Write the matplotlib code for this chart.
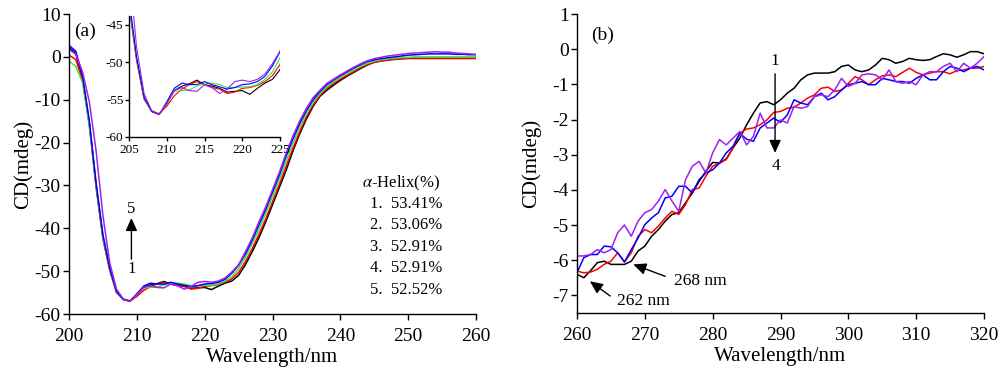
import matplotlib
matplotlib.use("Agg")
import matplotlib.pyplot as plt

plt.rcParams['font.family'] = ['Liberation Serif', 'DejaVu Serif']
plt.rcParams['mathtext.fontset'] = 'stix'
plt.rcParams['axes.unicode_minus'] = False

# ---------------- Panel (a) data ----------------
wl_a = list(range(200, 261))

cd_a_1 = [2.2, 0.8, -5.0, -15.5, -30.0, -42.0, -49.5, -54.8, -56.6, -57.0,
          -55.6, -53.8, -53.2, -52.9, -52.4, -53.0, -53.2, -53.5, -54.0, -53.9,
          -53.8, -54.3, -53.5, -52.8, -52.3, -51.0, -48.5, -45.5, -42.2, -38.5,
          -34.5, -30.5, -26.5, -22.0, -18.0, -14.5, -11.5, -9.2, -7.8, -6.6,
          -5.5, -4.5, -3.6, -2.7, -1.9, -1.2, -0.9, -0.7, -0.5, -0.4,
          -0.3, -0.3, -0.3, -0.3, -0.3, -0.3, -0.3, -0.3, -0.3, -0.3, -0.3]
cd_a_2 = [0.4, -0.6, -5.5, -16.0, -30.5, -42.5, -49.8, -55.0, -56.5, -56.9,
          -55.9, -54.5, -53.6, -53.0, -52.6, -53.0, -53.4, -53.6, -54.2, -54.0,
          -53.5, -53.4, -53.1, -52.6, -51.8, -50.3, -47.8, -44.8, -41.4, -37.8,
          -33.8, -29.8, -25.6, -21.4, -17.5, -14.0, -11.2, -9.0, -7.4, -6.2,
          -5.2, -4.3, -3.4, -2.5, -1.8, -1.3, -1.0, -0.8, -0.6, -0.5,
          -0.4, -0.4, -0.4, -0.4, -0.4, -0.4, -0.4, -0.4, -0.4, -0.4, -0.4]
cd_a_3 = [-1.0, -2.2, -6.0, -16.0, -30.0, -42.0, -49.5, -54.8, -56.6, -57.0,
          -55.5, -53.9, -53.8, -53.7, -53.2, -52.9, -52.8, -53.0, -53.4, -53.4,
          -53.3, -53.3, -53.0, -52.3, -51.3, -49.4, -46.8, -43.6, -40.2, -36.5,
          -32.6, -28.6, -24.4, -20.2, -16.5, -13.2, -10.6, -8.6, -7.0, -5.8,
          -4.8, -3.9, -3.0, -2.2, -1.5, -1.0, -0.7, -0.5, -0.3, -0.2,
          -0.1, 0.0, 0.0, 0.0, 0.0, 0.0, 0.0, 0.0, 0.0, 0.0, 0.0]
cd_a_4 = [2.7, 1.3, -4.5, -15.0, -29.5, -41.5, -49.3, -54.7, -56.6, -57.0,
          -55.3, -53.5, -52.8, -53.0, -53.0, -52.6, -53.0, -53.3, -53.6, -53.4,
          -53.0, -52.9, -52.6, -51.9, -50.5, -48.6, -46.0, -42.8, -39.2, -35.6,
          -31.6, -27.6, -23.2, -19.2, -15.6, -12.5, -10.0, -8.1, -6.5, -5.4,
          -4.4, -3.5, -2.6, -1.8, -1.1, -0.7, -0.4, -0.2, 0.0, 0.2,
          0.4, 0.5, 0.6, 0.7, 0.7, 0.7, 0.7, 0.6, 0.6, 0.5, 0.5]
cd_a_5 = [1.8, 0.6, -3.5, -10.5, -22.0, -37.0, -48.0, -54.2, -56.5, -57.0,
          -55.5, -53.8, -53.4, -53.8, -53.9, -53.0, -53.4, -54.2, -53.6, -52.6,
          -52.4, -52.6, -52.3, -51.6, -50.2, -48.5, -45.5, -42.3, -38.5, -35.0,
          -31.0, -27.0, -22.5, -18.5, -15.0, -12.0, -9.5, -7.8, -6.2, -5.2,
          -4.2, -3.3, -2.4, -1.6, -0.9, -0.4, -0.1, 0.2, 0.4, 0.6,
          0.8, 0.9, 1.0, 1.1, 1.2, 1.1, 1.1, 0.9, 0.8, 0.7, 0.6]

series_a = [cd_a_1, cd_a_2, cd_a_3, cd_a_4, cd_a_5]
colors_a = ['#000000', '#FF0000', '#33EE33', '#0000FF', '#A020F0']

helix_labels = ['1.  53.41%', '2.  53.06%', '3.  52.91%', '4.  52.91%', '5.  52.52%']

# ---------------- Panel (b) data ----------------
wl_b = list(range(260, 321))

cd_b_1 = [-6.40, -6.50, -6.30, -6.07, -6.03, -6.12, -6.12, -6.12, -6.03, -5.74,
          -5.60, -5.32, -5.13, -4.89, -4.70, -4.65, -4.37, -4.09, -3.76, -3.47,
          -3.22, -3.24, -3.12, -2.81, -2.53, -2.15, -1.82, -1.53, -1.49, -1.58,
          -1.44, -1.25, -1.11, -0.87, -0.73, -0.68, -0.68, -0.68, -0.64, -0.49,
          -0.45, -0.59, -0.64, -0.59, -0.45, -0.26, -0.30, -0.40, -0.35, -0.26,
          -0.30, -0.32, -0.30, -0.21, -0.13, -0.16, -0.23, -0.16, -0.07, -0.07, -0.13]
cd_b_2 = [-6.31, -6.36, -6.34, -6.26, -6.12, -6.03, -5.79, -6.05, -5.79, -5.32,
          -5.13, -5.22, -5.03, -4.80, -4.61, -4.70, -4.42, -3.99, -3.95, -3.61,
          -3.33, -3.24, -3.14, -2.81, -2.39, -2.27, -2.24, -2.15, -2.01, -1.80,
          -1.77, -1.68, -1.65, -1.53, -1.39, -1.30, -1.11, -1.08, -1.20, -1.16,
          -0.97, -0.78, -0.87, -1.01, -0.87, -0.76, -0.73, -0.78, -0.66, -0.54,
          -0.66, -0.73, -0.68, -0.64, -0.64, -0.70, -0.61, -0.59, -0.54, -0.54, -0.49]
cd_b_3 = [-6.36, -5.93, -5.84, -5.84, -5.60, -5.62, -5.79, -6.05, -5.70, -5.37,
          -4.99, -4.80, -4.65, -4.23, -4.18, -3.90, -3.90, -4.09, -3.71, -3.52,
          -3.43, -3.24, -2.95, -2.76, -2.39, -2.56, -2.62, -2.24, -2.10, -1.96,
          -2.08, -1.87, -1.44, -1.53, -1.58, -1.35, -1.25, -1.44, -1.35, -1.16,
          -1.01, -0.97, -0.92, -1.01, -1.01, -0.83, -0.87, -0.92, -0.92, -0.97,
          -0.83, -0.73, -0.87, -0.87, -0.64, -0.49, -0.54, -0.64, -0.54, -0.49, -0.59]
cd_b_4 = [-5.88, -5.88, -5.84, -5.70, -5.79, -5.70, -5.22, -5.00, -5.32, -4.89,
          -4.65, -4.56, -4.32, -3.99, -4.32, -4.61, -3.71, -3.33, -3.19, -3.52,
          -2.95, -2.57, -2.72, -2.53, -2.34, -2.72, -2.48, -1.82, -2.24, -2.24,
          -2.01, -2.10, -1.63, -1.68, -1.63, -1.35, -1.30, -1.35, -1.16, -0.83,
          -1.06, -0.97, -0.73, -0.70, -0.73, -0.87, -0.59, -0.92, -0.97, -0.92,
          -1.01, -0.73, -0.64, -0.64, -0.49, -0.40, -0.64, -0.40, -0.54, -0.40, -0.21]

series_b = [cd_b_1, cd_b_2, cd_b_3, cd_b_4]
colors_b = ['#000000', '#FF0000', '#0000FF', '#A020F0']

# ---------------- Figure ----------------
fig = plt.figure(figsize=(10, 3.69), dpi=100)

tick_fs = 14
label_fs = 15

def style(ax, fs, ticklen=4, pad=6):
    for s in ['top', 'right']:
        ax.spines[s].set_visible(False)
    for s in ['left', 'bottom']:
        ax.spines[s].set_linewidth(1.0)
    ax.tick_params(direction='out', length=ticklen, width=1.0, labelsize=fs)
    ax.tick_params(axis='x', pad=pad)
    ax.tick_params(axis='y', pad=2)

arrow_kw = dict(arrowstyle='-|>,head_length=0.55,head_width=0.25', color='black',
                lw=1.0, mutation_scale=14, shrinkA=0, shrinkB=0)

# Panel (a)
axa = fig.add_axes([0.069, 0.149, 0.407, 0.813])
for ys, c in zip(series_a, colors_a):
    axa.plot(wl_a, ys, color=c, lw=1.1)
axa.set_xlim(200, 260)
axa.set_ylim(-60, 10)
axa.set_xticks(range(200, 261, 10))
axa.set_yticks(range(-60, 11, 10))
style(axa, tick_fs)
axa.set_xlabel('Wavelength/nm', fontsize=label_fs, labelpad=2)
axa.set_ylabel('CD(mdeg)', fontsize=label_fs, labelpad=1)
axa.text(202.4, 5.9, '(a)', fontsize=14, ha='center', va='center')

axa.text(254.7, -29.5, r'$\alpha$-Helix(%)', fontsize=12, ha='right', va='center')
for i, lab in enumerate(helix_labels):
    axa.text(244.4, -34.3 - 5.0 * i, lab, fontsize=12, ha='left', va='center')

axa.annotate('', xy=(209.2, -37.6), xytext=(209.2, -47.2), arrowprops=arrow_kw)
axa.text(209.2, -35.4, '5', fontsize=12, ha='center', va='center')
axa.text(209.2, -49.4, '1', fontsize=12, ha='center', va='center')

# Inset
axi = fig.add_axes([0.129, 0.629, 0.151, 0.328])
for ys, c in zip(series_a, colors_a):
    axi.plot(wl_a, ys, color=c, lw=0.8)
axi.set_xlim(205, 225)
axi.set_ylim(-60, -43.8)
axi.set_xticks(range(205, 226, 5))
axi.set_yticks([-60, -55, -50, -45])
style(axi, 9.5, ticklen=3, pad=2)
axi.tick_params(axis='y', pad=1)
axi.patch.set_alpha(0)

# Panel (b)
axb = fig.add_axes([0.577, 0.152, 0.407, 0.810])
for ys, c in zip(series_b, colors_b):
    axb.plot(wl_b, ys, color=c, lw=1.1)
axb.set_xlim(260, 320)
axb.set_ylim(-7.5, 1)
axb.set_xticks(range(260, 321, 10))
axb.set_yticks(range(-7, 2, 1))
style(axb, tick_fs)
axb.set_xlabel('Wavelength/nm', fontsize=label_fs, labelpad=2)
axb.set_ylabel('CD(mdeg)', fontsize=label_fs, labelpad=8)
axb.text(263.7, 0.4, '(b)', fontsize=14, ha='center', va='center')

axb.annotate('', xy=(289.2, -2.95), xytext=(289.2, -0.7), arrowprops=arrow_kw)
axb.text(289.2, -0.33, '1', fontsize=12.5, ha='center', va='center')
axb.text(289.3, -3.33, '4', fontsize=12.5, ha='center', va='center')

axb.annotate('', xy=(268.3, -6.12), xytext=(273.0, -6.46), arrowprops=arrow_kw)
axb.text(278.2, -6.6, '268 nm', fontsize=12.5, ha='center', va='center')
axb.annotate('', xy=(261.9, -6.6), xytext=(264.9, -7.02), arrowprops=arrow_kw)
axb.text(269.8, -7.17, '262 nm', fontsize=12.5, ha='center', va='center')

fig.savefig('out.png', dpi=100)
